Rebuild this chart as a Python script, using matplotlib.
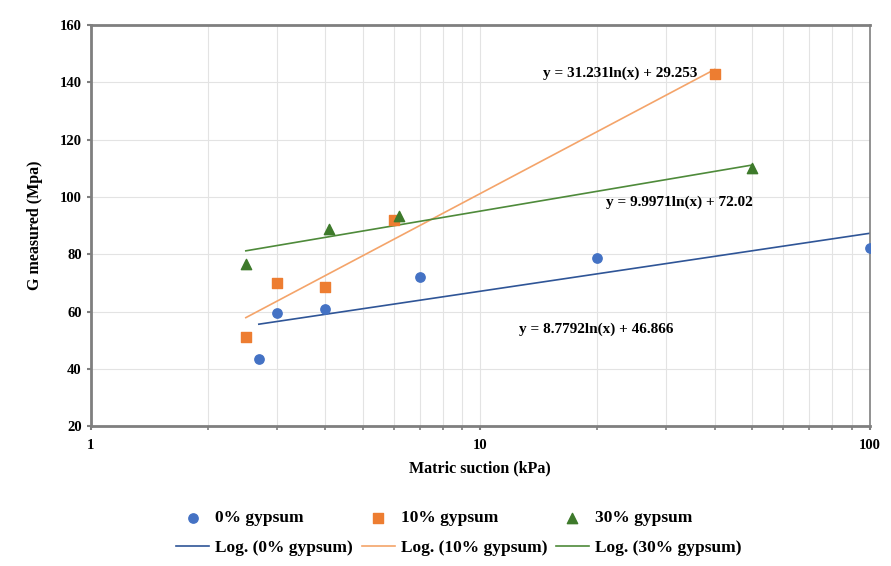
import numpy as np
import matplotlib
matplotlib.use("Agg")
import matplotlib.pyplot as plt
from matplotlib.ticker import LogLocator, FixedLocator, NullFormatter

plt.rcParams['font.family'] = ['Liberation Serif', 'DejaVu Serif']
plt.rcParams['font.weight'] = 'bold'

# measured points
X_0 = [2.7, 3.0, 4.0, 7.0, 20.0, 100.0]
G_0 = [43.5, 59.5, 60.8, 72.0, 78.7, 82.2]
X_10 = [2.5, 3.0, 4.0, 6.0, 40.0]
G_10 = [51.1, 70.0, 68.5, 92.0, 143.0]
X_30 = [2.5, 4.1, 6.2, 50.0]
G_30 = [76.6, 88.8, 93.3, 110.0]

# log trend coefficients (slope, intercept) as printed on the chart
FIT_0 = (8.7792, 46.866)
FIT_10 = (31.231, 29.253)
FIT_30 = (9.9971, 72.02)

BLUE = '#4472C4'
ORANGE = '#ED7D31'
GREEN = '#3E7A2B'

fig = plt.figure(figsize=(8.91, 5.66), dpi=100)
ax = fig.add_axes([0.102, 0.247, 0.874, 0.709])

series = [
    ('0% gypsum', X_0, G_0, FIT_0, BLUE, 'o', 45, '#2F5597'),
    ('10% gypsum', X_10, G_10, FIT_10, ORANGE, 's', 45, '#F4A46A'),
    ('30% gypsum', X_30, G_30, FIT_30, GREEN, '^', 55, '#4E8A3A'),
]

handles = []
for name, xs, ys, (a, b), col, mk, size, lcol in series:
    pts = ax.scatter(xs, ys, marker=mk, s=size, color=col, zorder=3, label=name)
    xf = np.array([min(xs), max(xs)])
    ln, = ax.plot(xf, a * np.log(xf) + b, color=lcol, lw=1.2, zorder=2,
                  label=f'Log. ({name})')
    handles += [pts, ln]

ax.set_xscale('log')
ax.set_xlim(1, 100)
ax.set_ylim(20, 160)
ax.set_yticks(np.arange(20, 161, 20))
ax.xaxis.set_major_locator(FixedLocator([1, 10, 100]))
ax.set_xticklabels(['1', '10', '100'])
ax.xaxis.set_minor_locator(LogLocator(base=10, subs=np.arange(2, 10)))
ax.xaxis.set_minor_formatter(NullFormatter())

ax.grid(True, which='both', axis='x', color='#E3E3E3', lw=0.8)
ax.grid(True, which='major', axis='y', color='#E3E3E3', lw=0.8)
ax.set_axisbelow(True)

for side in ['left', 'bottom', 'top']:
    ax.spines[side].set_color('#7F7F7F')
    ax.spines[side].set_linewidth(2.0)
ax.spines['right'].set_color('#7F7F7F')
ax.spines['right'].set_linewidth(1.2)

ax.tick_params(axis='both', which='major', labelsize=10.5, length=3, color='#7F7F7F', width=1.5)
ax.tick_params(axis='x', which='minor', length=3, color='#7F7F7F', width=1.2)
ax.tick_params(axis='x', which='major', pad=6)

ax.set_xlabel('Matric suction (kPa)', fontsize=11.5, fontweight='bold', labelpad=6)
ax.set_ylabel('G measured (Mpa)', fontsize=11.5, fontweight='bold', labelpad=12)

ax.text(22.9, 143.3, 'y = 31.231ln(x) + 29.253', fontsize=11, fontweight='bold', ha='center', va='center')
ax.text(32.5, 98.2, 'y = 9.9971ln(x) + 72.02', fontsize=11, fontweight='bold', ha='center', va='center')
ax.text(19.8, 53.9, 'y = 8.7792ln(x) + 46.866', fontsize=11, fontweight='bold', ha='center', va='center')

fig.legend(handles=handles, loc='center', bbox_to_anchor=(0.515, 0.058), ncol=3,
           frameon=False, handlelength=1.9, handletextpad=0.35, columnspacing=0.5,
           labelspacing=0.8, prop={'weight': 'bold', 'size': 12.5})

fig.savefig('out.png', dpi=100)
